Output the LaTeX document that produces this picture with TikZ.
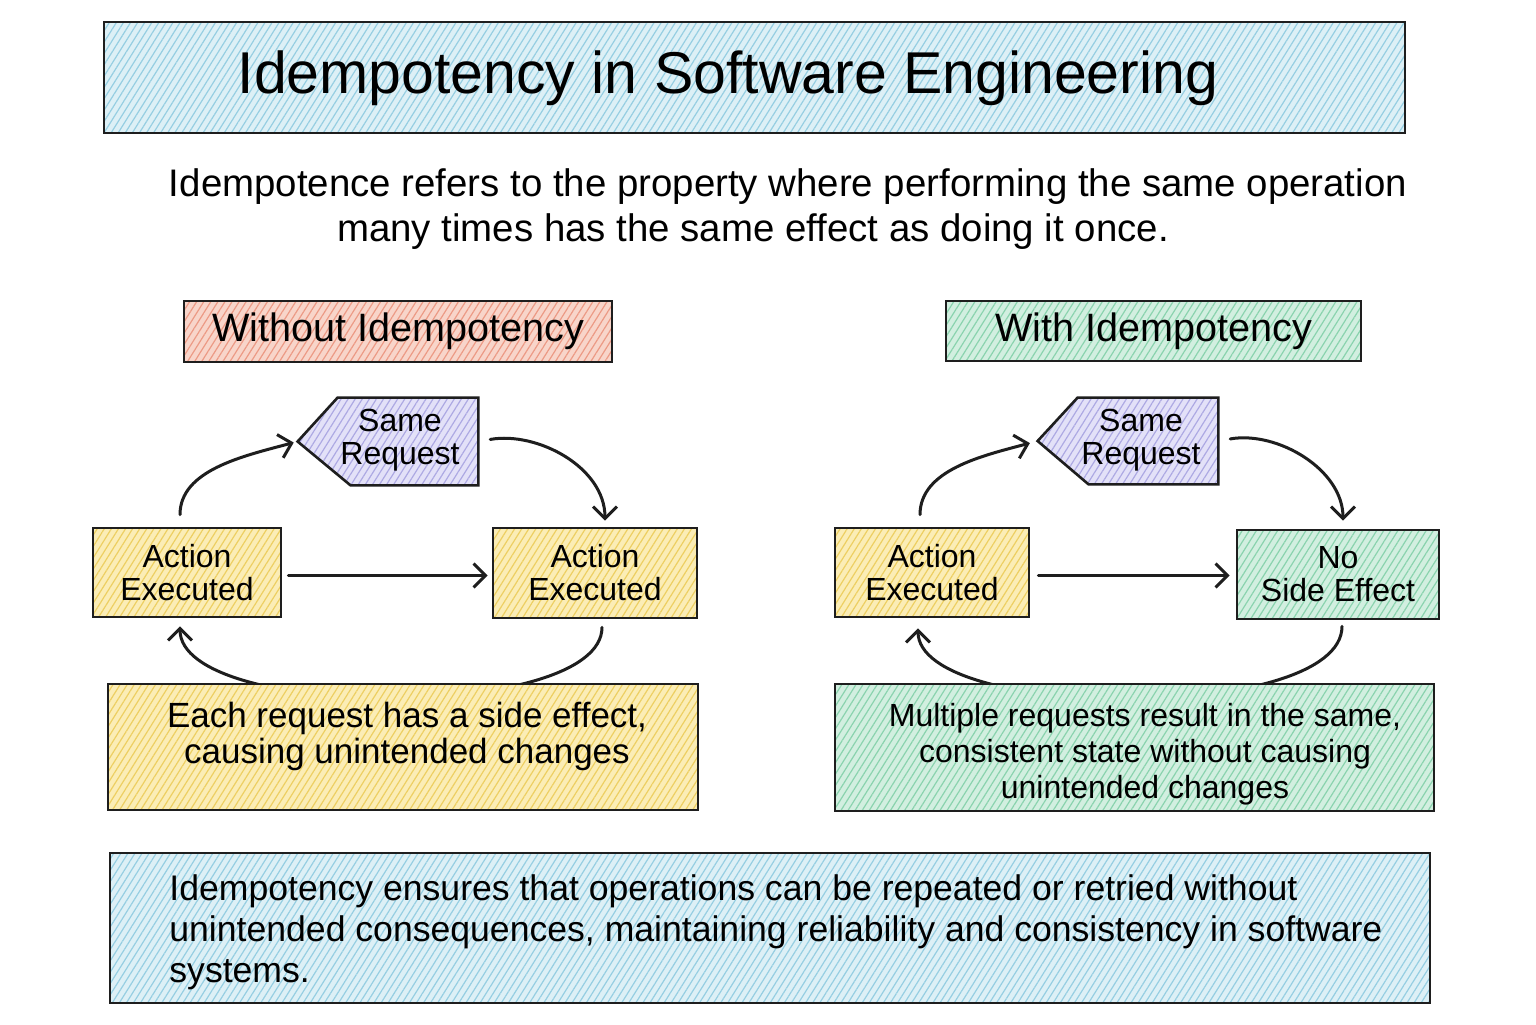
\documentclass[tikz,border=0pt]{standalone}
\usepackage{fontspec}
\setmainfont{Liberation Sans}
\usetikzlibrary{arrows.meta,patterns.meta,calc,backgrounds}
\definecolor{ink}{HTML}{1E1E1E}
\definecolor{blueL}{HTML}{DDF0F6}
\definecolor{blueH}{HTML}{96CEE2}
\definecolor{redL}{HTML}{F8D5CA}
\definecolor{redH}{HTML}{EC9A85}
\definecolor{purL}{HTML}{E3E1F8}
\definecolor{purH}{HTML}{ADA9E3}
\definecolor{yelL}{HTML}{FBEDB6}
\definecolor{yelH}{HTML}{EDCF62}
\definecolor{grnL}{HTML}{D2EFE0}
\definecolor{grnH}{HTML}{8AD3AE}
\tikzset{
  box/.style={draw=ink, line width=1.3pt, inner sep=0pt, align=center},
  hatch/.style 2 args={preaction={fill=#1}, pattern={Lines[angle=58,distance=3pt,line width=0.6pt]}, pattern color=#2},
  arr/.style={draw=ink, line width=1.5pt, line cap=round, -{Straight Barb[length=6pt,width=12pt,line width=1.5pt]}},
  lbl/.style={font=\fontsize{16}{16.5}\selectfont, align=center, inner sep=0pt},
}
\begin{document}
\begin{tikzpicture}[x=0.5pt,y=-0.5pt]
\useasboundingbox[fill=white] (0,0) rectangle (1536,1024);

% title
\node[box, hatch={blueL}{blueH}, minimum width=650.5pt, minimum height=55.5pt] (title) at (754.5,77.5) {};
\node[inner sep=0pt, font=\fontsize{29.5}{32}\selectfont] (titlet) at (728,78) {Idempotency in Software Engineering};

% subtitle
\node[inner sep=0pt, font=\fontsize{19.2}{22}\selectfont] (sub1) at (788,187) {Idempotence refers to the property where performing the same operation};
\node[inner sep=0pt, font=\fontsize{19.2}{22}\selectfont] (sub2) at (753,232) {many times has the same effect as doing it once.};

% section headers
\node[box, hatch={redL}{redH}, minimum width=214pt, minimum height=30.5pt, font=\fontsize{19.8}{21}\selectfont] (without) at (398,331.5) {Without Idempotency};
\node[box, hatch={grnL}{grnH}, minimum width=207.5pt, minimum height=30pt, font=\fontsize{19.8}{21}\selectfont] (with) at (1153.5,331) {With Idempotency};

% ---------- left cycle ----------
\node[inner sep=0pt, minimum width=90pt, minimum height=43.5pt] (sr1) at (388,441.5) {};
\path[draw=ink, line width=1.3pt, hatch={purL}{purH}] ($(sr1.north west)+(40,0)$) -- (sr1.north east) -- (sr1.south east) -- ($(sr1.south west)+(53,0)$) -- (sr1.west) -- cycle;
\node[lbl] (sr1t) at (400,440) {Same\\Request};

\node[box, lbl, hatch={yelL}{yelH}, minimum width=94pt, minimum height=44.5pt] (ae1) at (187,572.5) {Action\\Executed};
\node[box, lbl, hatch={yelL}{yelH}, minimum width=102pt, minimum height=45pt] (ae2) at (595,573) {Action\\Executed};

\draw[arr, shorten <=6pt, shorten >=2pt] ($(ae1.north)+(-7,0)$) to[out=90,in=195] (sr1.west);
\draw[arr, shorten <=6pt, shorten >=3pt] (sr1.east) to[out=10,in=90] ($(ae2.north)+(10,0)$);
\draw[arr, shorten <=3pt, shorten >=2pt] ($(ae1.east)+(0,3)$) -- ($(ae1.east -| ae2.west)+(0,3)$);
\draw[arr, shorten <=4pt, shorten >=4pt] ($(ae2.south)+(7,0)$) to[out=-90,in=-90,looseness=0.62] ($(ae1.south)+(-7,0)$);

\node[box, hatch={yelL}{yelH}, minimum width=295pt, minimum height=63pt] (eb1) at (403,747) {};
\node[inner sep=0pt, align=center, font=\fontsize{17.5}{18}\selectfont] (eb1t) at (407,736) {Each request has a side effect,\\causing unintended changes};

% ---------- right cycle ----------
\node[inner sep=0pt, minimum width=90pt, minimum height=43pt] (sr2) at (1128,441) {};
\path[draw=ink, line width=1.3pt, hatch={purL}{purH}] ($(sr2.north west)+(40,0)$) -- (sr2.north east) -- (sr2.south east) -- ($(sr2.south west)+(51,0)$) -- (sr2.west) -- cycle;
\node[lbl] (sr2t) at (1141,440) {Same\\Request};

\node[box, lbl, hatch={yelL}{yelH}, minimum width=97pt, minimum height=44.5pt] (ae3) at (932,572.5) {Action\\Executed};
\node[box, lbl, hatch={grnL}{grnH}, minimum width=101pt, minimum height=44.5pt] (nse) at (1338,574.5) {No\\Side Effect};

\draw[arr, shorten <=6pt, shorten >=4pt] ($(ae3.north)+(-12,0)$) to[out=90,in=195] (sr2.west);
\draw[arr, shorten <=6pt, shorten >=4pt] (sr2.east) to[out=10,in=90] ($(nse.north)+(5,0)$);
\draw[arr, shorten <=4pt, shorten >=3pt] ($(ae3.east)+(0,3)$) -- ($(ae3.east -| nse.west)+(0,3)$);
\draw[arr, shorten <=3pt, shorten >=5pt] ($(nse.south)+(4,0)$) to[out=-90,in=-90,looseness=0.62] ($(ae3.south)+(-14,0)$);

\node[box, hatch={grnL}{grnH}, minimum width=299.5pt, minimum height=63.5pt] (eb2) at (1134.5,747.5) {};
\node[inner sep=0pt, align=center, font=\fontsize{16}{18}\selectfont] (eb2t) at (1145,754) {Multiple requests result in the same,\\consistent state without causing\\unintended changes};

% ---------- banner ----------
\node[box, hatch={blueL}{blueH}, minimum width=660pt, minimum height=75pt] (banner) at (770,928) {};
\node[inner sep=0pt, anchor=west, align=left, font=\fontsize{17.8}{20.5}\selectfont] (bannert) at (169,932) {Idempotency ensures that operations can be repeated or retried without\\unintended consequences, maintaining reliability and consistency in software\\systems.};
\end{tikzpicture}
\end{document}
